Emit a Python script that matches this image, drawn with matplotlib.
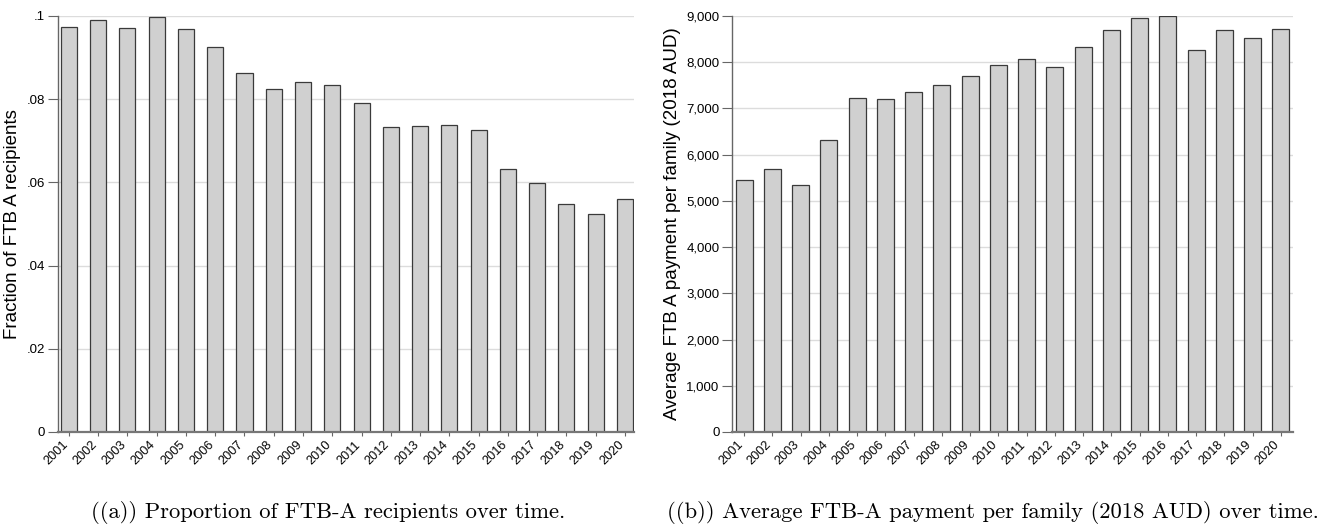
import matplotlib
matplotlib.use("Agg")
import matplotlib.pyplot as plt
from matplotlib.ticker import FuncFormatter
import matplotlib.transforms as mtransforms
import numpy as np

years = [str(y) for y in range(2001, 2021)]
fraction = [0.0973, 0.0991, 0.0970, 0.0997, 0.0968, 0.0926, 0.0863, 0.0824, 0.0841, 0.0833,
            0.0792, 0.0732, 0.0736, 0.0737, 0.0725, 0.0633, 0.0598, 0.0548, 0.0525, 0.0560]
payment = [5458, 5697, 5350, 6318, 7235, 7213, 7350, 7502, 7711, 7935,
           8079, 7899, 8325, 8700, 8946, 9000, 8256, 8690, 8516, 8711]
frac_ticks = [0, 0.02, 0.04, 0.06, 0.08, 0.1]
frac_labels = ["0", ".02", ".04", ".06", ".08", ".1"]
pay_ticks = [0, 1000, 2000, 3000, 4000, 5000, 6000, 7000, 8000, 9000]
caption_a = "((a)) Proportion of FTB-A recipients over time."
caption_b = "((b)) Average FTB-A payment per family (2018 AUD) over time."

plt.rcParams['font.family'] = ['Liberation Sans', 'DejaVu Sans']

W, H = 1324, 524
fig = plt.figure(figsize=(W / 100, H / 100), dpi=100)


def style(ax, ylabel):
    ax.set_facecolor("white")
    for s in ["top", "right"]:
        ax.spines[s].set_visible(False)
    ax.spines["left"].set_color("#666666")
    ax.spines["left"].set_linewidth(1.0)
    ax.spines["bottom"].set_color("#777777")
    ax.spines["bottom"].set_linewidth(1.6)
    ax.yaxis.grid(True, color="#dcdcdc", linewidth=1.0)
    ax.set_axisbelow(True)
    ax.tick_params(axis="y", length=7.5, width=0.8, color="#666666", labelsize=9.5, pad=1.5)
    ax.tick_params(axis="x", length=3, width=0.8, color="#666666", labelsize=9.2, pad=5)
    ax.set_ylabel(ylabel, fontsize=13.5, labelpad=4)
    off = mtransforms.ScaledTranslation(-3 / 100, 0, fig.dpi_scale_trans)
    for lab in ax.get_xticklabels():
        lab.set_rotation(45)
        lab.set_ha("right")
        lab.set_va("center")
        lab.set_rotation_mode("anchor")
        lab.set_transform(lab.get_transform() + off)


x = np.arange(len(years))

ax1 = fig.add_axes([57.5 / W, 1 - 432 / H, (634 - 57.5) / W, (432 - 16) / H])
ax1.bar(x, fraction, width=0.55, color="#d0d0d0", edgecolor="#3a3a3a", linewidth=0.9)
ax1.set_xlim(-0.39, 19.31)
ax1.set_ylim(0, 0.1)
ax1.set_yticks(frac_ticks)
ax1.set_yticklabels(frac_labels)
ax1.set_xticks(x)
ax1.set_xticklabels(years)
style(ax1, "Fraction of FTB A recipients")

ax2 = fig.add_axes([732 / W, 1 - 432 / H, (1293 - 732) / W, (432 - 16) / H])
ax2.bar(x, payment, width=0.6, color="#d0d0d0", edgecolor="#3a3a3a", linewidth=0.9)
ax2.set_xlim(-0.43, 19.43)
ax2.set_ylim(0, 9000)
ax2.set_yticks(pay_ticks)
ax2.yaxis.set_major_formatter(FuncFormatter(lambda v, p: f"{int(v):,}"))
ax2.set_xticks(x)
ax2.set_xticklabels(years)
style(ax2, "Average FTB A payment per family (2018 AUD)")

fig.text(328 / W, 1 - 513 / H, caption_a, family="cmr10", fontsize=16.3, ha="center", va="center")
fig.text(993 / W, 1 - 513 / H, caption_b, family="cmr10", fontsize=16.3, ha="center", va="center")

fig.savefig("out.png", dpi=100, facecolor="white")
